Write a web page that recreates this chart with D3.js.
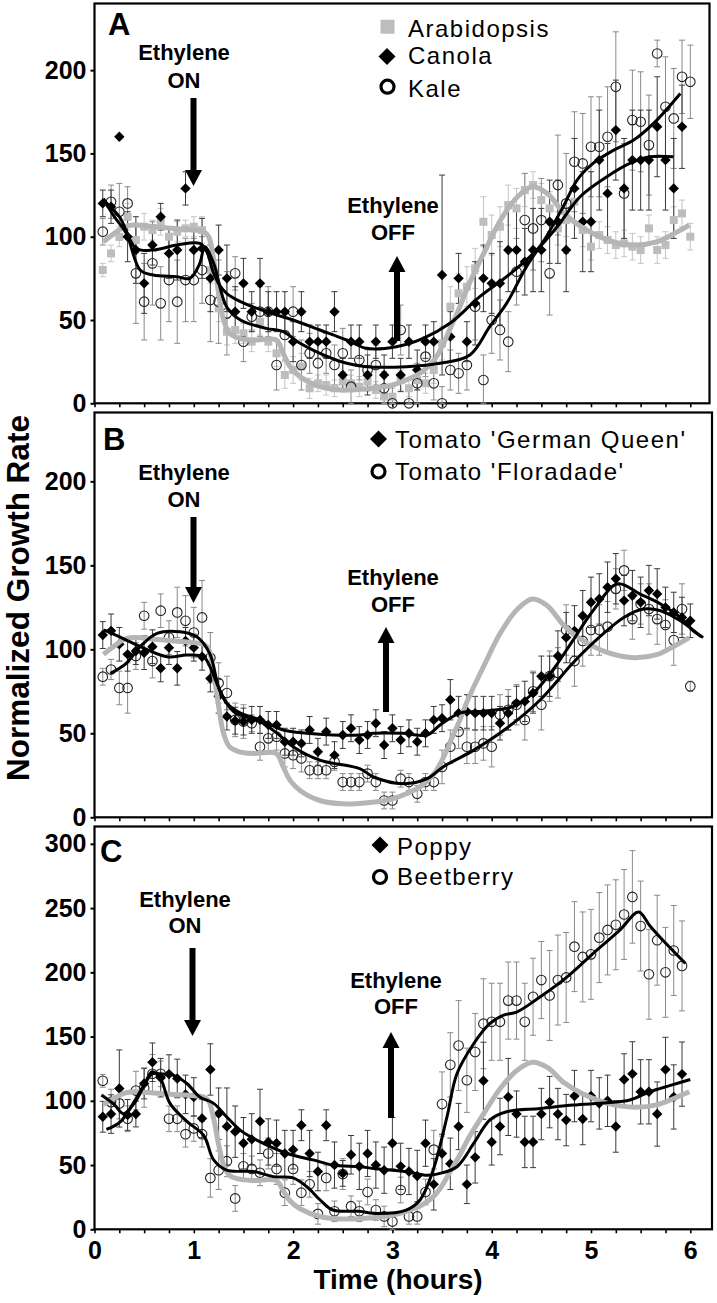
<!DOCTYPE html>
<html><head><meta charset="utf-8">
<script src="https://cdn.jsdelivr.net/npm/d3@7"></script>
<style>
body{margin:0;background:#fff}
svg{display:block}
text{font-family:"Liberation Sans",Arial,Helvetica,sans-serif}
</style></head>
<body><svg id="c" width="717" height="1303"></svg>
<script>
// ---------- DATA ----------
const minutes = [5,10,15,20,25,30,35,40,45,50,55,60,65,70,75,80,85,90,95,100,105,110,115,120,125,130,135,140,145,150,155,160,165,170,175,180,185,190,195,200,205,210,215,220,225,230,235,240,245,250,255,260,265,270,275,280,285,290,295,300,305,310,315,320,325,330,335,340,345,350,355,360];
const hourLabels = [0,1,2,3,4,5,6];
const yTicksAB = [0,50,100,150,200];
const yTicksC = [0,50,100,150,200,250,300];

// Panel A
const arabidopsis = [80,90,100,112,98,106,104,109,100,103, 105,106,104,80,57,43,44,42,37,49, 37,30,17,20,22,9,12,11,9,13, 12,10,13,8,4,4,14,9,14,12, 20,36,58,66,70,81,109,101,106,119, 117,128,131,122,117,105,110,121,104,94, 101,98,95,96,94,92,105,92,95,110, 114,100];
const arabidopsisErr = [4,5,6,8,8,8,6,8,6,6, 5,6,8,8,8,8,8,6,6,8, 6,8,8,8,8,6,5,6,5,6, 5,6,6,5,5,5,6,5,6,6, 8,10,12,12,12,12,15,12,12,12, 12,10,8,10,10,10,10,12,10,8, 8,8,8,8,8,8,8,8,8,8, 8,8];
const canola = [120,118,160,100,92,72,95,112,90,92, 129,92,93,75,92,75,55,72,55,72, 55,55,55,37,55,37,37,37,55,17, 37,37,17,37,17,37,17,37,20,37, 37,77,40,75,37,60,75,72,72,92, 92,85,92,92,109,109,92,129,109,109, 146,126,164,129,146,146,146,166,146,129,166];
const canolaErr = [8,10,0,15,20,18,12,8,15,18, 10,15,18,20,15,20,15,15,12,15, 12,12,12,12,12,10,10,10,12,10, 10,10,12,10,12,10,10,10,12,10, 12,60,15,15,12,25,20,18,25,25, 25,20,25,25,25,25,25,30,30,30, 30,30,30,30,30,30,30,30,30,30,25];
const kale = [103,121,115,120,78,61,84,60,74,61, 74,74,80,62,61,54,78,37,52,55, 55,23,41,55,23,30,24,30,23,30, 10,26,20,23,9,0,44,0,12,28, 12,0,20,18,23,58,14,50,44,37, 79,110,105,110,78,131,120,145,144,154, 154,160,190,126,170,169,155,210,178,171, 196,193];
const kaleErr = [8,10,17,10,30,23,25,22,25,25, 25,25,20,25,25,25,10,12,8,15, 15,15,15,15,15,12,12,12,12,15, 10,12,12,12,10,10,15,10,12,12, 10,10,12,12,15,20,15,20,18,18, 20,28,25,25,25,30,30,30,30,30, 30,30,33,30,30,30,30,8,30,30, 22,22];

// Panel B
const germanQueen = [108.5,111,103,97,99,98,101.6,88.7,101,88.7, 105,101,95.6,82.7,72,60,57.5,57,58,58, 55,55,45,45,44,52,39,51,37,49, 53,46,49,56,43,53,46,50,45,50, 58,59,70,62,63,62,62,62,56,62, 68,69,74,84,84,96,107,111,120,128, 130,137,142,129,132,128,135,133,125,122, 119,117];
const germanQueenErr = [8,10,10,10,8,10,10,8,10,10, 8,8,8,8,10,8,8,8,8,8, 8,8,8,8,8,8,8,8,8,8, 8,8,8,8,8,8,8,8,8,8, 8,8,12,10,10,10,10,10,10,10, 10,12,12,12,12,15,15,15,15,15, 15,15,15,15,15,15,15,15,12,12, 12,10];
const floradade = [83.7,88,77,77,96,120,93,123,107,122, 117,110,119,95,80,74,58,57,56,42, 47,48,38,37,35,28,28,28,33,21, 21,21,26,21,10,10,23,21,14,21, 21,30,42,51,42,42,44,42,61,64, 67,58,75,67,84,86,111.5,93,105,111.5, 111.5,113.5,136,147,118,127,124,118,114.5,105.5, 124,78];
const floradadeErr = [5,6,10,15,8,8,10,10,10,15, 15,15,22,15,12,10,10,10,5,8, 8,8,8,8,8,5,5,5,5,5, 5,5,5,5,5,5,5,5,5,5, 5,10,10,10,10,10,10,12,12,12, 12,12,12,15,15,15,15,15,15,15, 15,15,12,12,12,12,15,15,15,15, 15,3];

// Panel C
const poppy = [87.6,89.7,109.6,89,89.7,113.5,130,118,120.8,117.4, 105,103,86.3,124.4,90,80,76,67,70,84, 68,67,59,62,81,59,45,81,50,43.5, 58,49,59,50,46,67,49,45,41.5,67, 35,59,51,80,35,56,115.6,68,80,103, 89.7,68,68,89.7,99,89.7,85,103.7,85.8,103.7, 98,100,80,116.6,121,107,107,89.7,124.4,103,120.8];
const poppyErr = [12,15,30,12,10,12,15,15,15,15, 15,15,15,20,20,30,20,20,20,25, 18,18,18,15,12,18,15,12,18,10, 15,18,18,18,18,20,18,18,20,18, 20,15,20,18,15,20,30,18,22,30, 18,20,20,20,20,20,20,20,20,20, 20,20,20,20,25,25,25,25,25,25,25];
const beetberry = [115.6,99,98,86,108,110,121,121,86,86, 74,78.5,74,40,46,53,24,49,47,44, 59,47,28.5,47,28.5,35,12,40,14,43, 18,14,29,15,10,6,30.6,10,10,29, 62,97.5,128,143,116,138,160,161.5,161.5,178, 178,161.5,181,194,182,194,196,220,212,214, 227,233,237,245,258.7,236,198.5,225,200,217,205];
const beetberryErr = [5,10,12,10,15,15,15,10,10,10, 10,10,10,15,15,12,10,10,10,10, 12,12,10,12,10,10,8,10,8,12, 8,8,10,8,8,6,10,6,6,10, 15,25,25,35,25,30,35,30,30,30, 30,30,30,30,35,35,35,35,35,35, 35,35,35,35,36,35,35,35,35,35,35];

// fitted curves [hours, value]
const arabidopsisFit = [[0.09,97],[0.2,102],[0.3,106],[0.4,107],[0.6,106],[0.8,105],[1.0,104],[1.1,103],[1.15,100],[1.2,86],[1.25,66],[1.3,50],[1.36,42],[1.46,39],[1.6,38],[1.83,38],[1.9,30],[1.97,22],[2.07,16],[2.27,10],[2.5,8],[2.8,9],[3.0,11],[3.14,14],[3.3,19],[3.42,26],[3.5,34],[3.59,46],[3.68,58],[3.76,70],[3.92,90],[4.09,110],[4.26,124],[4.41,130],[4.56,126],[4.73,114],[4.9,106],[5.17,98],[5.44,95],[5.67,97],[5.84,102],[5.99,107]];
const canolaFit = [[0.09,122],[0.25,112],[0.42,93],[0.59,92],[0.83,95],[1.06,96],[1.13,91],[1.2,78],[1.27,70],[1.33,66],[1.47,61],[1.73,55],[2.0,50],[2.27,44],[2.54,38],[2.74,33],[3.04,34],[3.31,39],[3.58,48],[3.88,64],[4.15,76],[4.42,90],[4.66,106],[4.89,124],[5.16,136],[5.39,144],[5.59,148],[5.83,148]];
const kaleFit = [[0.09,123],[0.2,112],[0.32,102],[0.46,80],[0.59,77],[0.83,76],[0.96,75],[1.06,84],[1.11,94],[1.2,84],[1.33,58],[1.47,50],[1.73,45],[1.9,43],[2.07,36],[2.27,30],[2.54,24],[2.74,22],[3.14,22],[3.48,24],[3.78,29],[3.98,46],[4.15,60],[4.35,82],[4.55,100],[4.72,118],[4.86,134],[5.02,144],[5.23,152],[5.43,158],[5.63,168],[5.9,186]];
const germanQueenFit = [[0.09,111.5],[0.16,110],[0.39,103.6],[0.73,95.6],[0.93,96.6],[1.1,95.6],[1.16,90],[1.23,80],[1.33,68],[1.47,62],[1.67,58],[1.9,52],[2.14,50],[2.4,49],[2.67,49],[2.81,50],[3.1,50],[3.35,49],[3.48,55],[3.68,62],[3.88,63],[4.22,66],[4.42,74],[4.62,88],[4.82,105.5],[5.02,123],[5.27,139],[5.49,133],[5.7,127],[5.9,119],[6.03,111],[6.13,107]];
const floradadeFit = [[0.16,85.7],[0.32,91.7],[0.46,101.6],[0.63,109.5],[0.86,110.5],[1.03,107.5],[1.16,97.6],[1.26,75.8],[1.4,63],[1.67,57],[1.84,50],[2.0,42],[2.27,34],[2.67,29],[2.81,24],[3.11,20],[3.35,23],[3.51,30],[3.82,40],[4.15,53],[4.49,70],[4.82,92],[5.09,107.5],[5.33,119],[5.53,124],[5.7,123],[5.9,117],[6.11,107.5]];
const poppyFit = [[0.12,77.8],[0.26,83.7],[0.39,98],[0.49,111],[0.58,121],[0.66,121],[0.79,120],[0.93,113.5],[1.06,103],[1.2,98],[1.33,87.6],[1.47,77],[1.67,68],[1.94,59],[2.2,54],[2.4,50],[2.67,48.7],[2.81,47.4],[3.14,44.8],[3.35,42],[3.48,43.5],[3.65,48.7],[3.82,67],[3.98,85],[4.15,91.5],[4.49,94],[4.82,96.7],[5.16,98.5],[5.39,100.6],[5.59,107],[5.8,112],[6.0,116.6]];
const beetberryFit = [[0.07,104.5],[0.2,97],[0.29,90],[0.4,98],[0.5,112],[0.58,122.6],[0.66,118],[0.76,98],[0.93,84],[1.1,73],[1.2,54],[1.33,46],[1.6,45],[1.8,41],[2.0,40],[2.14,33],[2.27,23],[2.4,15],[2.67,14],[2.81,12.4],[3.14,15],[3.28,23],[3.41,46],[3.55,87.6],[3.65,121],[3.82,144.6],[3.98,160],[4.12,166.7],[4.25,169],[4.49,181],[4.76,196.5],[5.02,214.6],[5.29,232.8],[5.48,247],[5.59,236.5],[5.76,222],[5.95,207]];

// ---------- LAYOUT ----------
const FONT = '"Liberation Sans",Arial,Helvetica,sans-serif';
const svg = d3.select('#c');
const X0 = 94.5, PXH = 99.3;
const x = d3.scaleLinear().domain([0, 6.2]).range([X0, X0 + 6.2*PXH]);

const panels = [
  {letter:'A', top:3.5, bottom:403.3, right:709.5, ymax:240, ticks:yTicksAB, lx:108, ly:35,
   series:[
     {name:'Arabidopsis', vals:arabidopsis, err:arabidopsisErr, mark:'square'},
     {name:'Kale', vals:kale, err:kaleErr, mark:'circle'},
     {name:'Canola', vals:canola, err:canolaErr, mark:'diamond'}],
   fits:[canolaFit, kaleFit],
   legend:[{mark:'square',name:'Arabidopsis',mx:387.5,my:26.7,tx:408,ty:37},
           {mark:'diamond',name:'Canola',mx:387,my:56.5,tx:408,ty:64},
           {mark:'circle',name:'Kale',mx:387.5,my:86.7,tx:408,ty:96.5}],
   on:{cx:184, t1:60, t2:88, ax:193.5, tail:98, tip:186},
   off:{cx:393, t1:213, t2:240, ax:397, tail:341, tip:256}},
  {letter:'B', top:412.5, bottom:817.3, right:712, ymax:241, ticks:yTicksAB, lx:103, ly:450,
   series:[
     {name:"Tomato 'Floradade'", vals:floradade, err:floradadeErr, mark:'circle'},
     {name:"Tomato 'German Queen'", vals:germanQueen, err:germanQueenErr, mark:'diamond'}],
   fits:[germanQueenFit, floradadeFit],
   legend:[{mark:'diamond',name:"Tomato 'German Queen'",mx:378.5,my:439,tx:395,ty:448},
           {mark:'circle',name:"Tomato 'Floradade'",mx:378.5,my:471.5,tx:395,ty:480}],
   on:{cx:184, t1:480, t2:507, ax:193.5, tail:517, tip:603},
   off:{cx:393, t1:585, t2:612, ax:386, tail:712, tip:627}},
  {letter:'C', top:826.5, bottom:1229.3, right:712, ymax:313.5, ticks:yTicksC, lx:100, ly:862,
   series:[
     {name:'Beetberry', vals:beetberry, err:beetberryErr, mark:'circle'},
     {name:'Poppy', vals:poppy, err:poppyErr, mark:'diamond'}],
   fits:[poppyFit, beetberryFit],
   legend:[{mark:'diamond',name:'Poppy',mx:380,my:845,tx:397,ty:855},
           {mark:'circle',name:'Beetberry',mx:380,my:877,tx:397,ty:885}],
   on:{cx:185, t1:907, t2:933, ax:192.5, tail:948, tip:1036},
   off:{cx:396, t1:988, t2:1014, ax:391, tail:1118, tip:1032}}
];

const errColor = {square:'#c4c4c4', circle:'#8a8a8a', diamond:'#3a3a3a'};

function drawMark(g, type, cx, cy, legend) {
  if (type === 'square') {
    const s = legend ? 14 : 8;
    g.append('rect').attr('x', cx - s/2).attr('y', cy - s/2).attr('width', s).attr('height', s)
      .attr('fill', '#bdbdbd');
  } else if (type === 'diamond') {
    const r = legend ? 8.5 : 5.2;
    g.append('path').attr('d', `M${cx},${cy-r}L${cx+r},${cy}L${cx},${cy+r}L${cx-r},${cy}Z`)
      .attr('fill', '#000');
  } else {
    g.append('circle').attr('cx', cx).attr('cy', cy).attr('r', legend ? 6.5 : 4.8)
      .attr('fill', 'none').attr('stroke', legend ? '#000' : '#222')
      .attr('stroke-width', legend ? 3.2 : 1.1);
  }
}

function arrow(g, ax, tail, tip) {
  const dir = tip > tail ? 1 : -1;
  const hw = 3, hh = 8.5, hl = 16;
  const base = tip - dir*hl;
  g.append('path')
    .attr('d', `M${ax-hw},${tail}L${ax+hw},${tail}L${ax+hw},${base}L${ax+hh},${base}L${ax},${tip}L${ax-hh},${base}L${ax-hw},${base}Z`)
    .attr('fill', '#000');
}

panels.forEach(p => {
  const y = d3.scaleLinear().domain([0, p.ymax]).range([p.bottom, p.top]);
  const g = svg.append('g');
  // axes
  const ya = g.append('g').attr('transform', `translate(${X0},0)`)
    .call(d3.axisLeft(y).tickValues(p.ticks).tickSize(4).tickPadding(4));
  ya.select('.domain').remove();
  ya.selectAll('line').attr('stroke', '#000').attr('stroke-width', 2);
  ya.selectAll('text').attr('font-family', FONT).attr('font-weight', 'bold')
    .attr('font-size', 25).attr('fill', '#000');
  const xa = g.append('g').attr('transform', `translate(0,${p.bottom})`)
    .call(d3.axisBottom(x).tickValues(d3.range(0, 6.01, 0.25)).tickSize(4).tickFormat(''));
  xa.select('.domain').remove();
  xa.selectAll('line').attr('stroke', '#000').attr('stroke-width', 1.6);
  if (p.letter === 'C') {
    const xl = g.append('g').attr('transform', `translate(0,${p.bottom})`)
      .call(d3.axisBottom(x).tickValues(hourLabels).tickSize(0).tickPadding(12).tickFormat(d3.format('d')));
    xl.select('.domain').remove();
    xl.selectAll('text').attr('font-family', FONT).attr('font-weight', 'bold')
      .attr('font-size', 25).attr('fill', '#000');
  }
  // frame
  g.append('rect').attr('x', X0).attr('y', p.top).attr('width', p.right - X0)
    .attr('height', p.bottom - p.top).attr('fill', 'none').attr('stroke', '#000').attr('stroke-width', 2.2);

  const px = i => x(minutes[i] / 60);
  // error bars
  p.series.forEach(s => {
    const eg = g.append('g').attr('stroke', errColor[s.mark]).attr('stroke-width', 1);
    s.vals.forEach((v, i) => {
      const e = s.err[i];
      if (v == null || !e) return;
      const cx = px(i), y1 = y(v + e), y2 = y(Math.max(0, v - e));
      eg.append('line').attr('x1', cx).attr('x2', cx).attr('y1', y1).attr('y2', y2);
      eg.append('line').attr('x1', cx - 3).attr('x2', cx + 3).attr('y1', y1).attr('y2', y1);
      eg.append('line').attr('x1', cx - 3).attr('x2', cx + 3).attr('y1', y2).attr('y2', y2);
    });
  });
  // markers
  p.series.forEach(s => {
    const mg = g.append('g');
    s.vals.forEach((v, i) => { if (v != null) drawMark(mg, s.mark, px(i), y(v), false); });
  });
  // fits
  const line = d3.line().x(d => x(d[0])).y(d => y(d[1])).curve(d3.curveCatmullRom.alpha(0.5));
  g.append('path').attr('d', line(arabidopsisFit)).attr('fill', 'none')
    .attr('stroke', '#b5b5b5').attr('stroke-width', 5).attr('stroke-linejoin', 'round');
  p.fits.forEach(f => {
    g.append('path').attr('d', line(f)).attr('fill', 'none')
      .attr('stroke', '#000').attr('stroke-width', 3).attr('stroke-linejoin', 'round');
  });
  // panel letter
  g.append('text').attr('x', p.lx).attr('y', p.ly).text(p.letter)
    .attr('font-family', FONT).attr('font-weight', 'bold').attr('font-size', 31);
  // legend
  p.legend.forEach(l => {
    drawMark(g, l.mark, l.mx, l.my, true);
    g.append('text').attr('x', l.tx).attr('y', l.ty).text(l.name)
      .attr('font-family', FONT).attr('font-size', 24).attr('letter-spacing', 1.5);
  });
  // annotations
  [[p.on, 'ON'], [p.off, 'OFF']].forEach(([a, w]) => {
    g.append('text').attr('x', a.cx).attr('y', a.t1).attr('text-anchor', 'middle').text('Ethylene')
      .attr('font-family', FONT).attr('font-weight', 'bold').attr('font-size', 22);
    g.append('text').attr('x', a.cx).attr('y', a.t2).attr('text-anchor', 'middle').text(w)
      .attr('font-family', FONT).attr('font-weight', 'bold').attr('font-size', 22);
    arrow(g, a.ax, a.tail, a.tip);
  });
});

// axis titles
svg.append('text').attr('transform', 'translate(28.5,598) rotate(-90)').attr('text-anchor', 'middle')
  .text('Normalized Growth Rate').attr('font-family', FONT).attr('font-weight', 'bold').attr('font-size', 31.5);
svg.append('text').attr('x', 398).attr('y', 1289).attr('text-anchor', 'middle')
  .text('Time (hours)').attr('font-family', FONT).attr('font-weight', 'bold').attr('font-size', 28);
</script></body></html>
